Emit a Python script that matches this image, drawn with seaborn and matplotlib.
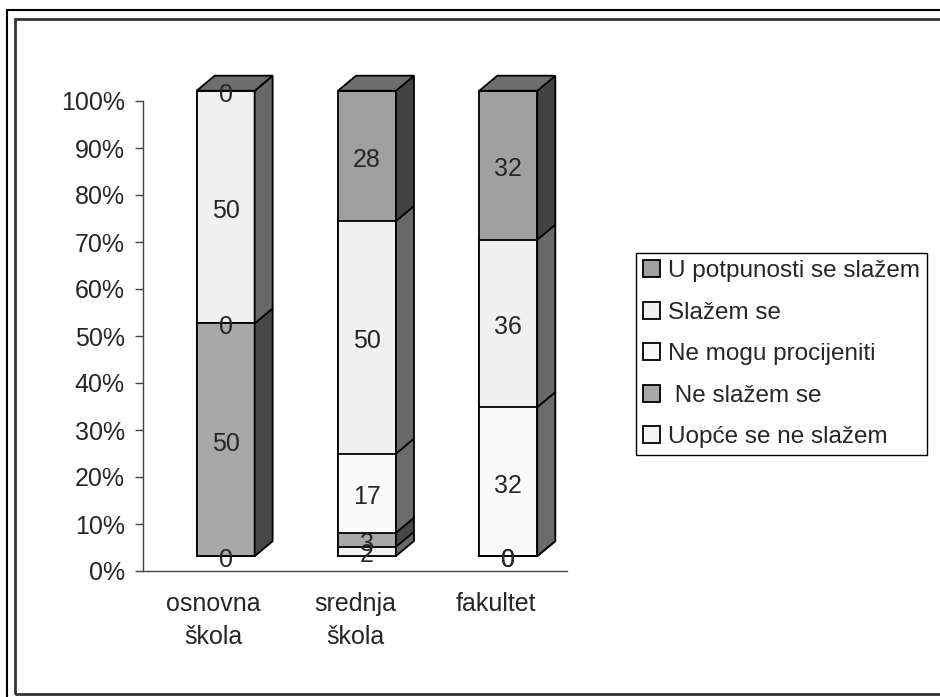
import numpy as np
import pandas as pd
import matplotlib
matplotlib.use("Agg")
import matplotlib.pyplot as plt
import seaborn as sns
from matplotlib.patches import Polygon, Patch, Rectangle
from matplotlib.transforms import ScaledTranslation
from matplotlib.ticker import PercentFormatter

# podaci (od dna prema vrhu stupca)
kategorije = ["osnovna\nškola", "srednja\nškola", "fakultet"]
serije = ["Uopće se ne slažem", " Ne slažem se", "Ne mogu procijeniti",
          "Slažem se", "U potpunosti se slažem"]
uopce = [0, 2, 0]
ne_slazem = [50, 3, 0]
ne_mogu = [0, 17, 32]
slazem = [50, 50, 36]
potpuno = [0, 28, 32]

boje = ["#f4f4f4", "#a8a8a8", "#fafafa", "#f0f0f0", "#a0a0a0"]
boje_bok = ["#6a6a6a", "#474747", "#6c6c6c", "#686868", "#434343"]
boja_vrh = "#6e6e6e"

vrijednosti = np.array([uopce, ne_slazem, ne_mogu, slazem, potpuno], dtype=float)
postotci = vrijednosti / vrijednosti.sum(axis=0) * 100
kumulativ = np.cumsum(postotci, axis=0)

sns.set_style("white")
plt.rcParams["font.family"] = ["Liberation Sans", "DejaVu Sans"]
plt.rcParams["font.size"] = 18

fig = plt.figure(figsize=(9.4, 6.97), dpi=100)
ax = fig.add_axes([143 / 940, 1 - 571 / 697, 424 / 940, 470 / 697])

sirina = 0.41
sk = 0.99  # prednja strana malo niza od osi
# pomak prednje strane stupca (3D efekt)
pomak = ScaledTranslation(12 / 100, 15 / 100, fig.dpi_scale_trans)
pomak_txt = ScaledTranslation(12 / 100, 11 / 100, fig.dpi_scale_trans)

# crtamo od vrha prema dnu tako da donji slojevi prekriju gornje
for k in range(len(serije) - 1, -1, -1):
    df = pd.DataFrame({"kat": kategorije, "vr": kumulativ[k] * sk})
    n_prije = len(ax.patches)
    sns.barplot(data=df, x="kat", y="vr", color=boje[k], width=sirina,
                edgecolor="black", linewidth=1.3, saturation=1, ax=ax)
    for p in ax.patches[n_prije:]:
        p.set_facecolor(boje[k])
        p.set_transform(ax.transData + pomak)
        p.set_clip_on(False)

ax.set_xlim(-0.5, 2.5)
ax.set_ylim(0, 100)

# dubina u jedinicama podataka
ddx = 18 / 424 * 3
ddy = 15 / 470 * 100

for i in range(len(kategorije)):
    xl = i - sirina / 2
    xr = i + sirina / 2
    for k in range(len(serije)):
        b = (kumulativ[k][i] - postotci[k][i]) * sk
        t = kumulativ[k][i] * sk
        bok = Polygon([(xr, b), (xr + ddx, b + ddy), (xr + ddx, t + ddy), (xr, t)],
                      closed=True, facecolor=boje_bok[k], edgecolor="black",
                      linewidth=1.3, transform=ax.transData + pomak, clip_on=False)
        ax.add_patch(bok)
        ax.text(i, (b + t) / 2, f"{int(vrijednosti[k][i])}",
                ha="center", va="center", fontsize=18,
                transform=ax.transData + pomak_txt, clip_on=False, zorder=5)
    vt = 100 * sk
    vrh = Polygon([(xl, vt), (xr, vt), (xr + ddx, vt + ddy), (xl + ddx, vt + ddy)],
                  closed=True, facecolor=boja_vrh, edgecolor="black",
                  linewidth=1.3, transform=ax.transData + pomak, clip_on=False)
    ax.add_patch(vrh)

ax.set_xlabel("")
ax.set_ylabel("")
ax.yaxis.set_major_formatter(PercentFormatter(decimals=0))
ax.set_yticks(np.arange(0, 101, 10))
ax.set_xticks(range(3))
ax.set_xticklabels(kategorije, linespacing=1.5)
ax.set_xticks([-0.5, 0.5, 1.5, 2.5], minor=True)
ax.tick_params(axis="x", which="major", length=0, pad=15)
ax.tick_params(axis="x", which="minor", length=6, width=1, color="#444444", direction="out")
ax.tick_params(axis="y", length=6, width=1, color="#444444", direction="out", pad=7, left=True)
for s in ["top", "right"]:
    ax.spines[s].set_visible(False)
for s in ["left", "bottom"]:
    ax.spines[s].set_color("#444444")
    ax.spines[s].set_linewidth(1)

# legenda
rucke = [Patch(facecolor=boje[k], edgecolor="black", linewidth=1.3, label=serije[k])
         for k in range(len(serije) - 1, -1, -1)]
leg = fig.legend(handles=rucke, loc="upper left",
                 bbox_to_anchor=(636 / 940, 1 - 253 / 697), borderaxespad=0,
                 fancybox=False, edgecolor="black", framealpha=1,
                 handlelength=0.7, handleheight=0.7, handletextpad=0.3,
                 labelspacing=0.8, borderpad=0.3, fontsize=17.5)
leg.get_frame().set_linewidth(1)

# okviri oko grafikona
fig.patches.append(Rectangle((7 / 940, -0.1), 1.2, (697 - 10) / 697 + 0.1,
                             transform=fig.transFigure, fill=False,
                             edgecolor="black", linewidth=1.5))
fig.patches.append(Rectangle((15 / 940, 1 - 694 / 697), 1.2, (694 - 19) / 697,
                             transform=fig.transFigure, fill=False,
                             edgecolor="#333333", linewidth=2))

fig.savefig("out.png", dpi=100)
